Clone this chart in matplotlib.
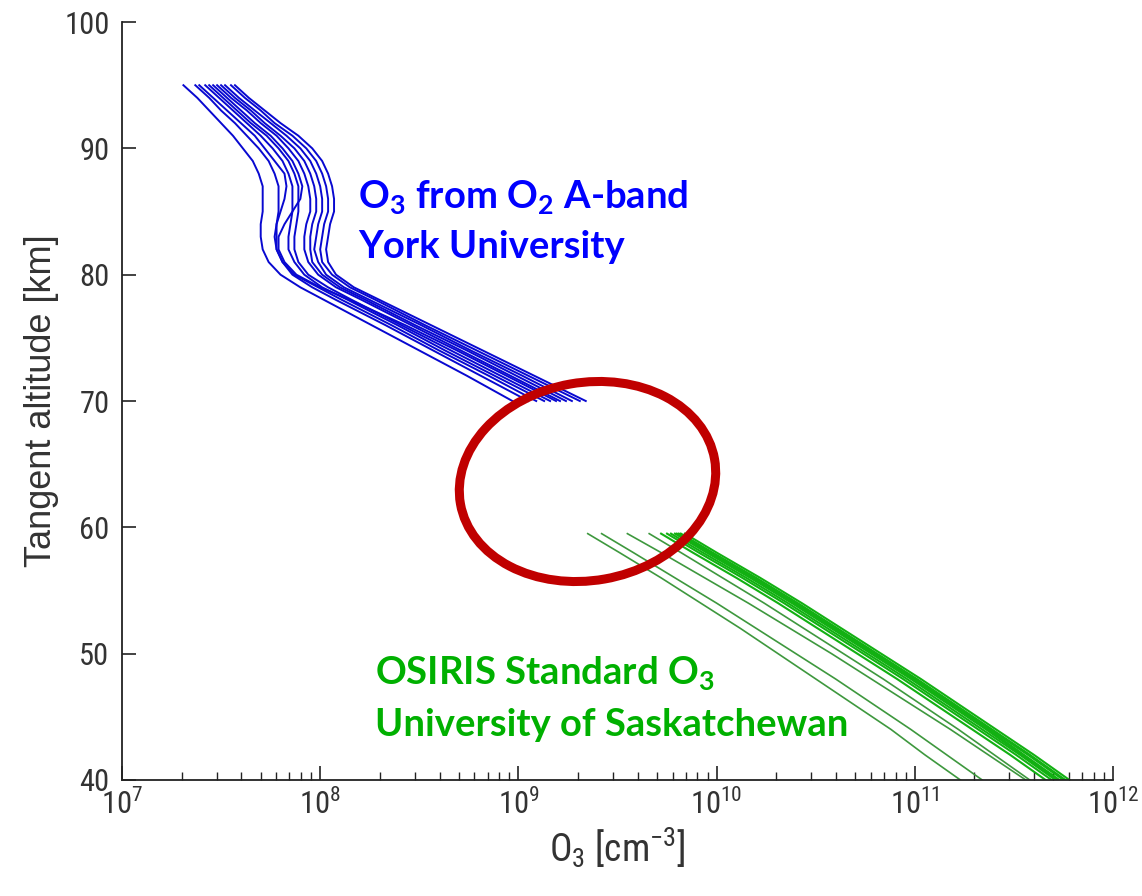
import os
import glob
import numpy as np
import matplotlib
matplotlib.use("Agg")
import matplotlib.pyplot as plt
from matplotlib import font_manager as fm
from matplotlib.patches import Ellipse

# ---------------------------------------------------------------------------
# Ozone number density profiles, stored as log10(O3 [cm^-3]) per altitude
# ---------------------------------------------------------------------------

# O3 retrieved from the O2 A-band (York University), 70-95 km
york_alt = [95, 94, 93, 92, 91, 90, 89, 88, 87, 86, 85, 84, 83, 82, 81, 80,
            79, 78, 76, 74, 72, 70]
york_log_o3 = [
    [7.31, 7.38, 7.44, 7.50, 7.56, 7.61, 7.66, 7.69, 7.71, 7.71, 7.71, 7.70, 7.70, 7.71, 7.74, 7.80, 7.90, 8.02, 8.26, 8.50, 8.74, 8.97],
    [7.37, 7.44, 7.50, 7.57, 7.63, 7.69, 7.74, 7.77, 7.79, 7.79, 7.79, 7.78, 7.78, 7.78, 7.81, 7.86, 7.96, 8.08, 8.33, 8.57, 8.81, 9.05],
    [7.39, 7.46, 7.53, 7.60, 7.67, 7.72, 7.77, 7.82, 7.83, 7.82, 7.80, 7.78, 7.77, 7.78, 7.81, 7.87, 7.99, 8.11, 8.36, 8.60, 8.85, 9.09],
    [7.42, 7.49, 7.56, 7.63, 7.70, 7.76, 7.81, 7.84, 7.86, 7.86, 7.86, 7.85, 7.84, 7.84, 7.87, 7.92, 8.01, 8.14, 8.39, 8.63, 8.88, 9.13],
    [7.44, 7.51, 7.58, 7.65, 7.73, 7.79, 7.84, 7.87, 7.89, 7.89, 7.89, 7.88, 7.87, 7.87, 7.89, 7.94, 8.04, 8.16, 8.41, 8.66, 8.91, 9.16],
    [7.46, 7.53, 7.60, 7.67, 7.75, 7.81, 7.86, 7.89, 7.91, 7.90, 7.86, 7.82, 7.79, 7.79, 7.82, 7.88, 8.00, 8.15, 8.43, 8.69, 8.94, 9.19],
    [7.48, 7.55, 7.63, 7.70, 7.78, 7.84, 7.89, 7.92, 7.94, 7.95, 7.95, 7.93, 7.92, 7.92, 7.94, 7.99, 8.08, 8.21, 8.46, 8.71, 8.96, 9.21],
    [7.50, 7.57, 7.65, 7.72, 7.80, 7.87, 7.92, 7.95, 7.97, 7.98, 7.98, 7.96, 7.95, 7.95, 7.96, 8.01, 8.10, 8.23, 8.48, 8.74, 8.99, 9.24],
    [7.52, 7.59, 7.67, 7.75, 7.83, 7.90, 7.95, 7.98, 8.00, 8.01, 8.01, 7.99, 7.98, 7.97, 7.99, 8.03, 8.12, 8.25, 8.51, 8.76, 9.02, 9.27],
    [7.55, 7.62, 7.70, 7.77, 7.86, 7.93, 7.98, 8.01, 8.03, 8.04, 8.04, 8.02, 8.01, 8.00, 8.01, 8.06, 8.15, 8.28, 8.53, 8.79, 9.05, 9.31],
    [7.57, 7.64, 7.72, 7.80, 7.89, 7.96, 8.01, 8.04, 8.06, 8.07, 8.07, 8.05, 8.04, 8.03, 8.04, 8.08, 8.17, 8.30, 8.56, 8.82, 9.08, 9.34],
]

# OSIRIS standard O3 product (University of Saskatchewan), 40-59.5 km
osiris_alt = [59.5, 58, 56, 54, 52, 50, 48, 46, 44, 42, 40]
osiris_log_o3_outer = [
    [9.35, 9.51, 9.72, 9.92, 10.12, 10.31, 10.50, 10.69, 10.88, 11.05, 11.23],
    [9.42, 9.58, 9.79, 10.00, 10.20, 10.40, 10.60, 10.79, 10.98, 11.16, 11.34],
    [9.55, 9.72, 9.94, 10.16, 10.37, 10.58, 10.78, 10.98, 11.18, 11.37, 11.56],
    [9.66, 9.82, 10.03, 10.24, 10.44, 10.64, 10.84, 11.03, 11.22, 11.40, 11.58],
]
osiris_log_o3_core = [
    [9.72, 9.88, 10.10, 10.31, 10.51, 10.71, 10.91, 11.10, 11.29, 11.48, 11.66],
    [9.75, 9.91, 10.13, 10.34, 10.54, 10.74, 10.94, 11.13, 11.32, 11.51, 11.69],
    [9.77, 9.93, 10.15, 10.36, 10.56, 10.76, 10.96, 11.15, 11.34, 11.53, 11.71],
    [9.79, 9.95, 10.17, 10.38, 10.58, 10.78, 10.98, 11.17, 11.36, 11.54, 11.72],
    [9.80, 9.96, 10.18, 10.39, 10.59, 10.79, 10.99, 11.18, 11.37, 11.55, 11.73],
    [9.81, 9.97, 10.19, 10.40, 10.60, 10.80, 11.00, 11.19, 11.38, 11.57, 11.75],
    [9.82, 9.98, 10.20, 10.41, 10.61, 10.81, 11.01, 11.20, 11.39, 11.58, 11.76],
    [9.84, 10.00, 10.22, 10.43, 10.63, 10.83, 11.03, 11.22, 11.41, 11.60, 11.78],
]

y_ticks = [40, 50, 60, 70, 80, 90, 100]


# ---------------------------------------------------------------------------
# Fonts: a narrow sans for the axes, a bold humanist sans for the notes
# ---------------------------------------------------------------------------
NARROW_STEMS = ["liberationsansnarrow-regular", "robotocondensed-regular",
                "notosans-condensed", "notosans-semicondensed",
                "opensans-condensedregular", "opensans_condensed-regular",
                "dejavusanscondensed"]


def find_narrow_font():
    paths = [f.fname for f in fm.fontManager.ttflist]
    for pattern in ("/usr/share/fonts/**/*.*tf", "/usr/local/share/fonts/**/*.*tf"):
        paths += glob.glob(pattern, recursive=True)
    stems = {}
    for path in paths:
        stems.setdefault(os.path.splitext(os.path.basename(path))[0].lower(), path)
    for stem in NARROW_STEMS:
        if stem in stems:
            return stems[stem]
    return None


narrow_path = find_narrow_font()


def axis_font(size):
    if narrow_path:
        return fm.FontProperties(fname=narrow_path, size=size)
    return fm.FontProperties(family=["Liberation Sans", "DejaVu Sans"], size=size * 0.9)


plt.rcParams["mathtext.default"] = "regular"
plt.rcParams["font.family"] = ["Liberation Sans", "DejaVu Sans"]
note_font = ["Lato", "DejaVu Sans"]

# ---------------------------------------------------------------------------
# Figure
# ---------------------------------------------------------------------------
fig = plt.figure(figsize=(11.42, 8.96), dpi=100)
ax = fig.add_axes([0.1068, 0.1295, 0.8678, 0.8459])

blue = "#0808d0"
green_core = "#12b012"
green_outer = "#3e983e"

for prof in york_log_o3:
    ax.plot(10 ** np.array(prof), york_alt, color=blue, lw=1.4)
for prof in osiris_log_o3_outer:
    ax.plot(10 ** np.array(prof), osiris_alt, color=green_outer, lw=1.2)
for prof in osiris_log_o3_core:
    ax.plot(10 ** np.array(prof), osiris_alt, color=green_core, lw=1.5)

ax.set_xscale("log")
ax.set_xlim(1e7, 1e12)
ax.set_ylim(40, 100)
ax.set_yticks(y_ticks)
ax.set_yticklabels([str(v) for v in y_ticks])

for side in ("top", "right"):
    ax.spines[side].set_visible(False)
for side in ("left", "bottom"):
    ax.spines[side].set_linewidth(1.3)
    ax.spines[side].set_color("#222222")

ax.tick_params(axis="both", which="major", direction="in", length=10,
               width=1.2, color="#222222", labelcolor="#333333")
ax.tick_params(axis="both", which="minor", direction="in", length=6,
               width=1.0, color="#222222")
ax.tick_params(axis="y", which="major", pad=9)
ax.tick_params(axis="x", which="major", pad=6)

ax.set_xlabel("O$_3$ [cm$^{-3}$]", fontproperties=axis_font(27),
              color="#333333", labelpad=4)
ax.set_ylabel("Tangent altitude [km]", fontsize=26, color="#333333",
              family=["Liberation Sans", "DejaVu Sans"], labelpad=4)

fig.canvas.draw()
for lbl in ax.get_xticklabels() + ax.get_yticklabels():
    lbl.set_fontproperties(axis_font(22))

# Annotations
note_style = dict(transform=ax.transAxes, family=note_font, fontweight="bold",
                  fontsize=27.5, va="baseline", ha="left")
ax.text(0.238, 0.7546, "O$_3$ from O$_2$ A-band", color="#0000ff", **note_style)
ax.text(0.238, 0.6887, "York University", color="#0000ff", **note_style)
ax.text(0.2553, 0.126, "OSIRIS Standard O$_3$", color="#00b000", **note_style)
ax.text(0.2553, 0.0580, "University of Saskatchewan", color="#00b000", **note_style)

# Gap between the two retrievals, highlighted with a ring
gap_ring = Ellipse((5.875, 4.145), width=2.58, height=1.98, angle=10,
                   transform=fig.dpi_scale_trans, fill=False,
                   edgecolor="#c00000", linewidth=6.5)
fig.patches.append(gap_ring)

fig.savefig("out.png", dpi=100)
